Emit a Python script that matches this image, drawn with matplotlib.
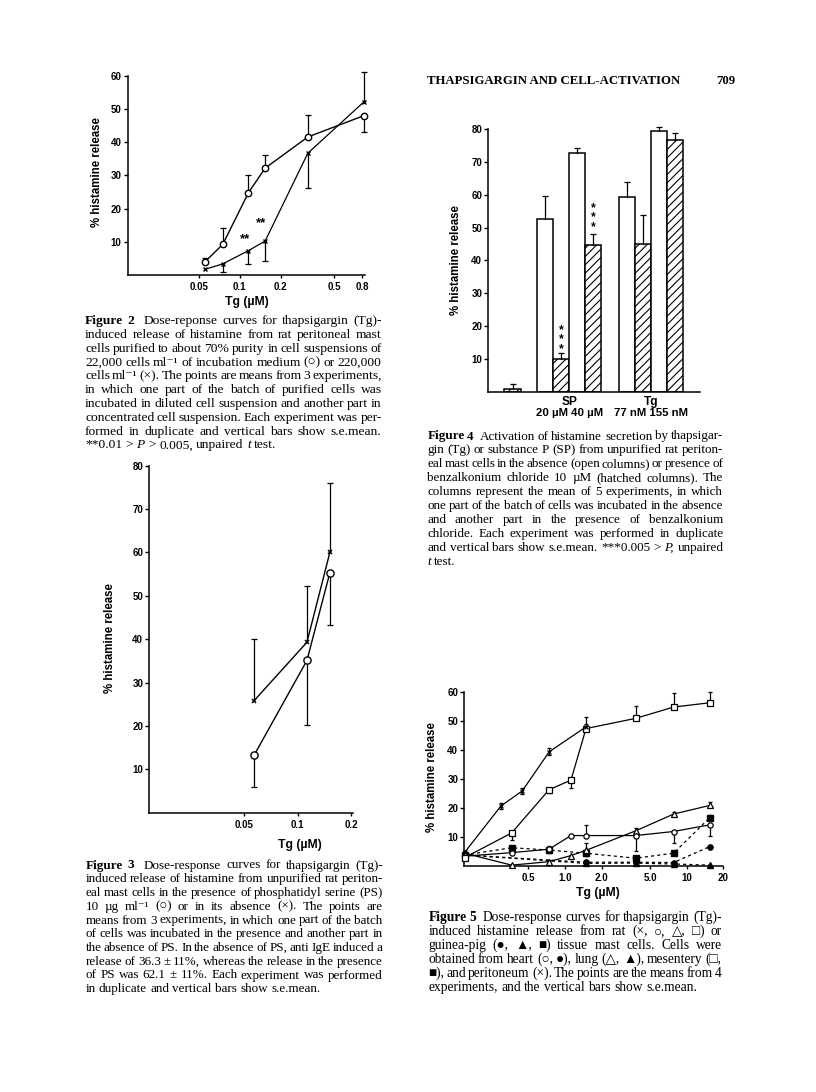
import matplotlib
matplotlib.use('Agg')
import matplotlib.pyplot as plt
import numpy as np

# ---------------- data ----------------
# Figure 2
f2_x = [0.055, 0.075, 0.116, 0.154, 0.318, 0.82]
f2_circ = [3.8, 9.2, 24.8, 32.2, 41.6, 48.0]
f2_circ_up = [1.2, 4.8, 5.2, 4.0, 6.7, 0.0]
f2_circ_dn = [0.0, 0.0, 0.0, 0.0, 0.0, 4.8]
f2_cross = [1.6, 3.3, 7.3, 10.2, 36.7, 52.1]
f2_cross_up = [0.0, 0.0, 0.0, 0.0, 0.0, 9.0]
f2_cross_dn = [0.0, 2.4, 4.0, 5.9, 10.4, 0.0]
f2_xticks = [0.05, 0.1, 0.2, 0.5, 0.8]
f2_xticklabels = ['0.05', '0.1', '0.2', '0.5', '0.8']
f2_yticks = [10, 20, 30, 40, 50, 60]

# Figure 3
f3_x = [0.0569, 0.113, 0.152]
f3_cross = [25.8, 39.3, 60.0]
f3_cross_up = [14.2, 13.0, 16.1]
f3_circ = [13.2, 35.1, 55.3]
f3_circ_dn = [7.3, 14.9, 12.1]
f3_xticks = [0.05, 0.1, 0.2]
f3_xticklabels = ['0.05', '0.1', '0.2']
f3_yticks = [10, 20, 30, 40, 50, 60, 70, 80]

# Figure 4
f4_ctrl = 1.0
f4_ctrl_err = 1.5
f4_groups = ['SP', 'Tg']
f4_doses = ['20 \u00b5M 40 \u00b5M', '77 nM 155 nM']
f4_open = [[52.7, 72.8], [59.4, 79.4]]
f4_open_err = [[6.8, 1.4], [4.4, 1.3]]
f4_hatch = [[10.1, 44.6], [45.0, 76.6]]
f4_hatch_err = [[1.8, 3.5], [8.7, 2.1]]
f4_yticks = [10, 20, 30, 40, 50, 60, 70, 80]

# Figure 5
f5_x = [0.15, 0.365, 0.74, 1.12, 1.49, 3.8, 7.8, 15.5]
f5_rat_mes = [3.0, 11.5, 26.4, 29.7, 47.5, 51.0, 54.9, 56.4]
f5_rat_mes_up = [0, 0, 0.6, 0, 4.0, 4.4, 5.0, 3.8]
f5_rat_mes_dn = [0, 2.5, 1.0, 2.8, 0, 0, 0, 0]
f5_rat_heart = [3.5, 4.7, 5.9, 10.6, 10.6, 10.6, 12.0, 14.3]
f5_rat_heart_up = [0, 0, 1.2, 0, 3.8, 0, 0, 0]
f5_rat_heart_dn = [0, 0, 0, 0, 0, 5.2, 3.8, 3.7]
f5_rat_lung = [4.5, 0.4, 1.6, 3.7, 5.5, 12.2, 18.0, 21.0]
f5_rat_lung_up = [0, 0, 0.6, 0, 2.5, 1.0, 0.7, 1.2]
f5_per_x = [0.15, 0.298, 0.446, 0.743, 1.48]
f5_per = [4.8, 20.8, 26.0, 39.5, 48.0]
f5_per_err = [0.0, 1.0, 1.0, 1.2, 1.2]
f5_gp_mes_x = [0.15, 0.365, 0.74, 1.49, 3.8, 7.8, 15.5]
f5_gp_mes = [3.9, 6.4, 5.6, 4.5, 2.8, 4.5, 16.8]
f5_gp_mes_err = [0, 0.6, 1.0, 0.8, 0.8, 0.5, 1.0]
f5_gp_heart_x = [0.15, 1.49, 3.8, 7.8, 15.5]
f5_gp_heart = [3.9, 1.4, 1.4, 1.3, 6.8]
f5_gp_lung_x = [0.15, 1.49, 3.8, 7.8, 15.5]
f5_gp_lung = [3.9, 1.0, 1.1, 0.8, 0.4]
f5_xticks = [0.5, 1.0, 2.0, 5.0, 10, 20]
f5_xticklabels = ['0.5', '1.0', '2.0', '5.0', '10', '20']
f5_yticks = [10, 20, 30, 40, 50, 60]

# ---------------- figure ----------------
W, H = 816, 1092
fig = plt.figure(figsize=(W / 100, H / 100), dpi=100)
fig.patch.set_facecolor('white')

SANS = ['Liberation Sans', 'DejaVu Sans']
SERIF = ['Liberation Serif', 'DejaVu Serif']
TICKFS = 7.0
YLABFS = 8.3
XLABFS = 8.8


def fx(x):
    return x / W


def fy(y):
    return 1 - y / H


def ax_at(l, t, r, b):
    return fig.add_axes([l / W, 1 - b / H, (r - l) / W, (b - t) / H])


def style_axes(ax, xticks=None, xlabels=None, yticks=None):
    for s in ['top', 'right']:
        ax.spines[s].set_visible(False)
    for s in ['left', 'bottom']:
        ax.spines[s].set_linewidth(1.1)
    ax.set_facecolor('none')
    ax.minorticks_off()
    ax.tick_params(axis='y', direction='out', length=3.2, width=1.0, pad=1.2)
    ax.tick_params(axis='x', direction='out', length=2.5, width=1.0, pad=2.5)
    if yticks is not None:
        ax.set_yticks(yticks)
        ax.set_yticklabels([str(v) for v in yticks])
    if xticks is not None:
        ax.set_xticks(xticks)
        ax.set_xticklabels(xlabels)
    else:
        ax.set_xticks([])
    ax.minorticks_off()
    for lab in ax.get_xticklabels() + ax.get_yticklabels():
        lab.set_fontfamily(SANS)
        lab.set_fontsize(TICKFS)
        lab.set_fontweight('bold')


def errs(ax, x, y, up, dn, capw=4.5, lw=0.9):
    x = np.asarray(x, float)
    y = np.asarray(y, float)
    up = np.asarray(up, float)
    dn = np.asarray(dn, float)
    for xi, yi, u, d in zip(x, y, up, dn):
        if u > 0:
            ax.plot([xi, xi], [yi, yi + u], color='k', lw=lw, zorder=2, clip_on=False)
            ax.plot([xi], [yi + u], marker='_', ms=capw, mew=lw, color='k', zorder=2, clip_on=False)
        if d > 0:
            ax.plot([xi, xi], [yi, yi - d], color='k', lw=lw, zorder=2, clip_on=False)
            ax.plot([xi], [yi - d], marker='_', ms=capw, mew=lw, color='k', zorder=2, clip_on=False)


def ylab(text, x, y):
    fig.text(fx(x), fy(y), text, rotation=90, ha='center', va='center',
             fontsize=YLABFS, fontweight='bold', family=SANS)


def xlab(text, x, y):
    fig.text(fx(x), fy(y), text, ha='center', va='center',
             fontsize=XLABFS, fontweight='bold', family=SANS)


# ---------- Figure 2 ----------
ax2 = ax_at(127.7, 76, 365, 274.8)
ax2.set_xscale('log')
ax2.set_xlim(0.0149, 0.84)
ax2.set_ylim(0, 60)
style_axes(ax2, f2_xticks, f2_xticklabels, f2_yticks)
errs(ax2, f2_x, f2_circ, f2_circ_up, f2_circ_dn)
errs(ax2, f2_x, f2_cross, f2_cross_up, f2_cross_dn)
ax2.plot(f2_x, f2_circ, '-', color='k', lw=1.0, marker='o', ms=4.6, mfc='white', mec='k', mew=1.0, zorder=3, clip_on=False)
ax2.plot(f2_x, f2_cross, '-', color='k', lw=0.9, marker='x', ms=3.0, mew=1.0, zorder=3, clip_on=False)
ax2.text(0.109, 10.8, '**', ha='center', va='center', fontsize=9.5, fontweight='bold', family=SANS)
ax2.text(0.1446, 15.7, '**', ha='center', va='center', fontsize=9.5, fontweight='bold', family=SANS)
ylab('% histamine release', 96.7, 171.7)
xlab('Tg (\u00b5M)', 246.7, 301.7)

# ---------- Figure 3 ----------
ax3 = ax_at(149.3, 465.7, 352.7, 812.7)
ax3.set_xscale('log')
ax3.set_xlim(0.01466, 0.2044)
ax3.set_ylim(0, 80)
style_axes(ax3, f3_xticks, f3_xticklabels, f3_yticks)
errs(ax3, f3_x, f3_cross, f3_cross_up, [0, 0, 0])
errs(ax3, f3_x, f3_circ, [0, 0, 0], f3_circ_dn)
ax3.plot(f3_x, f3_cross, '-', color='k', lw=1.0, marker='x', ms=3.2, mew=1.1, zorder=3)
ax3.plot(f3_x, f3_circ, '-', color='k', lw=1.0, marker='o', ms=5.2, mfc='white', mec='k', mew=1.0, zorder=3)
ylab('% histamine release', 110, 638.3)
xlab('Tg (\u00b5M)', 300, 845)

# ---------- Figure 4 ----------
plt.rcParams['hatch.linewidth'] = 0.8
ax4 = ax_at(488.3, 129, 700, 391.9)
ax4.set_xlim(-3.56, 9.67)
ax4.set_ylim(0, 80)
style_axes(ax4, None, None, f4_yticks)
ax4.tick_params(axis='x', length=0)
ctrl_pos = -2.04
group_start = [0.0, 5.1]
bw = 1.0
ax4.bar([ctrl_pos], [f4_ctrl], width=1.05, color='white', edgecolor='k', lw=1.1, hatch='////', zorder=2)
errs(ax4, [ctrl_pos], [f4_ctrl], [f4_ctrl_err], [0], capw=5)
for g in range(len(f4_groups)):
    for d in range(2):
        po = group_start[g] + 2 * d
        ph = po + 1
        ax4.bar([po], [f4_open[g][d]], width=bw, color='white', edgecolor='k', lw=1.1, zorder=2)
        ax4.bar([ph], [f4_hatch[g][d]], width=bw, color='white', edgecolor='k', lw=1.1, hatch='////', zorder=2)
        errs(ax4, [po], [f4_open[g][d]], [f4_open_err[g][d]], [0], capw=5)
        errs(ax4, [ph], [f4_hatch[g][d]], [f4_hatch_err[g][d]], [0], capw=5)
# significance stars
ax4.text(group_start[0] + 1, 16.0, '*\n*\n*', ha='center', va='center', fontsize=8.8,
         fontweight='bold', family=SANS, linespacing=0.72)
ax4.text(group_start[0] + 3, 53.1, '*\n*\n*', ha='center', va='center', fontsize=8.8,
         fontweight='bold', family=SANS, linespacing=0.72)
for g, name in enumerate(f4_groups):
    cx = group_start[g] + 1.5
    pxx = 488.3 + (cx + 3.56) / (9.67 + 3.56) * (700 - 488.3)
    fig.text(fx(pxx), fy(401.7), name, ha='center', va='center', fontsize=8.6,
             fontweight='bold', family=SANS)
    fig.text(fx(pxx), fy(413.5), f4_doses[g], ha='center', va='center', fontsize=8.2,
             fontweight='bold', family=SANS)
ylab('% histamine release', 456, 260)

# ---------- Figure 5 ----------
ax5 = ax_at(464.3, 692.3, 723.3, 866.3)
ax5.set_xscale('log')
ax5.set_xlim(0.149, 20)
ax5.set_ylim(0, 60)
style_axes(ax5, f5_xticks, f5_xticklabels, f5_yticks)
ms5 = 3.8
errs(ax5, f5_x, f5_rat_mes, f5_rat_mes_up, f5_rat_mes_dn, capw=3.5)
errs(ax5, f5_x, f5_rat_heart, f5_rat_heart_up, f5_rat_heart_dn, capw=3.5)
errs(ax5, f5_x, f5_rat_lung, f5_rat_lung_up, [0] * 8, capw=3.5)
errs(ax5, f5_per_x, f5_per, f5_per_err, f5_per_err, capw=3.5)
errs(ax5, f5_gp_mes_x, f5_gp_mes, f5_gp_mes_err, f5_gp_mes_err, capw=3.5)
ax5.plot(f5_gp_mes_x, f5_gp_mes, ls=(0, (2.5, 2.5)), color='k', lw=0.9, marker='s',
         ms=ms5, mfc='k', mec='k', zorder=3, clip_on=False)
ax5.plot(f5_gp_heart_x, f5_gp_heart, ls=(0, (2.5, 2.5)), color='k', lw=0.9, marker='o',
         ms=ms5, mfc='k', mec='k', zorder=3, clip_on=False)
ax5.plot(f5_gp_lung_x, f5_gp_lung, ls=(0, (2.5, 2.5)), color='k', lw=0.9, marker='^',
         ms=ms5, mfc='k', mec='k', zorder=3, clip_on=False)
ax5.plot(f5_x, f5_rat_lung, '-', color='k', lw=0.9, marker='^', ms=ms5 + 0.4, mfc='white',
         mec='k', mew=0.9, zorder=4, clip_on=False)
ax5.plot(f5_x, f5_rat_heart, '-', color='k', lw=0.9, marker='o', ms=ms5, mfc='white',
         mec='k', mew=0.9, zorder=4, clip_on=False)
ax5.plot(f5_x, f5_rat_mes, '-', color='k', lw=0.9, marker='s', ms=ms5, mfc='white',
         mec='k', mew=0.9, zorder=4, clip_on=False)
ax5.plot(f5_per_x, f5_per, '-', color='k', lw=0.9, marker='x', ms=2.6, mew=0.9,
         zorder=4, clip_on=False)
ylab('% histamine release', 431.7, 776.7)
xlab('Tg (\u00b5M)', 598.3, 893.3)

# ---------------- text ----------------
renderer = fig.canvas.get_renderer()


def parse(line):
    raw = line.split(' ')
    words, weights, pending = [], [], 0
    for tok in raw:
        if tok == '':
            pending += 1
            continue
        if words:
            weights.append(1 + pending)
        pending = 0
        words.append(tok)
    return words, weights


def make_word(w, y, size):
    weight, style, txt = 'normal', 'normal', w
    if txt.startswith('\u00a7b'):
        weight, txt = 'bold', txt[2:]
    elif txt.startswith('\u00a7i'):
        style, txt = 'italic', txt[2:]
    return fig.text(0, y, txt, fontsize=size, family=SERIF, fontweight=weight,
                    fontstyle=style, va='baseline', ha='left')


def space_width(size):
    a = fig.text(0, 0, 'a a', fontsize=size, family=SERIF)
    b = fig.text(0, 0, 'aa', fontsize=size, family=SERIF)
    w = a.get_window_extent(renderer).width - b.get_window_extent(renderer).width
    a.remove()
    b.remove()
    return w


def natural_width(line, size):
    words, weights = parse(line)
    tot = 0
    for w in words:
        t = make_word(w, 0, size)
        tot += t.get_window_extent(renderer).width
        t.remove()
    return tot + space_width(size) * sum(weights)


def justify(lines, x0, x1, y0, dy, size):
    # fit the font size so that normal lines fill the column
    ratios = [(x1 - x0) / natural_width(l, size) for l in lines[:-1]]
    size = size * float(np.median(ratios))
    spw = space_width(size)
    for i, line in enumerate(lines):
        last = (i == len(lines) - 1)
        words, weights = parse(line)
        arts, widths = [], []
        for w in words:
            t = make_word(w, fy(y0 + i * dy), size)
            arts.append(t)
            widths.append(t.get_window_extent(renderer).width)
        total = sum(widths)
        if last or not weights:
            gap = spw
        else:
            gap = (x1 - x0 - total) / sum(weights)
        x = x0
        for k, (t, w) in enumerate(zip(arts, widths)):
            t.set_x(fx(x))
            x += w
            if k < len(weights):
                x += gap * weights[k]


cap2 = [
    '\u00a7bFigure \u00a7b2  Dose-reponse curves for thapsigargin (Tg)-',
    'induced release of histamine from rat peritoneal mast',
    'cells purified to about 70% purity in cell suspensions of',
    '22,000 cells ml\u207b\u00b9 of incubation medium (\u25cb) or 220,000',
    'cells ml\u207b\u00b9 (\u00d7). The points are means from 3 experiments,',
    'in which one part of the batch of purified cells was',
    'incubated in diluted cell suspension and another part in',
    'concentrated cell suspension. Each experiment was per-',
    'formed in duplicate and vertical bars show s.e.mean.',
    '**0.01 > \u00a7iP > 0.005, unpaired \u00a7it test.',
]
cap3 = [
    '\u00a7bFigure \u00a7b3  Dose-response curves for thapsigargin (Tg)-',
    'induced release of histamine from unpurified rat periton-',
    'eal mast cells in the presence of phosphatidyl serine (PS)',
    '10 \u00b5g ml\u207b\u00b9 (\u25cb) or in its absence (\u00d7). The points are',
    'means from 3 experiments, in which one part of the batch',
    'of cells was incubated in the presence and another part in',
    'the absence of PS. In the absence of PS, anti IgE induced a',
    'release of 36.3 \u00b1 11%, whereas the release in the presence',
    'of PS was 62.1 \u00b1 11%. Each experiment was performed',
    'in duplicate and vertical bars show s.e.mean.',
]
cap4 = [
    '\u00a7bFigure \u00a7b4  Activation of histamine secretion by thapsigar-',
    'gin (Tg) or substance P (SP) from unpurified rat periton-',
    'eal mast cells in the absence (open columns) or presence of',
    'benzalkonium chloride 10 \u00b5M (hatched columns). The',
    'columns represent the mean of 5 experiments, in which',
    'one part of the batch of cells was incubated in the absence',
    'and another part in the presence of benzalkonium',
    'chloride. Each experiment was performed in duplicate',
    'and vertical bars show s.e.mean. ***0.005 > \u00a7iP, unpaired',
    '\u00a7it test.',
]
cap5 = [
    '\u00a7bFigure \u00a7b5  Dose-response curves for thapsigargin (Tg)-',
    'induced histamine release from rat (\u00d7, \u25cb, \u25b3, \u25a1) or',
    'guinea-pig (\u25cf, \u25b2, \u25a0) tissue mast cells. Cells were',
    'obtained from heart (\u25cb, \u25cf), lung (\u25b3, \u25b2), mesentery (\u25a1,',
    '\u25a0), and peritoneum (\u00d7). The points are the means from 4',
    'experiments, and the vertical bars show s.e.mean.',
]
CFS = 8.4
justify(cap2, 85, 381.7, 324.2, 13.8, CFS)
justify(cap3, 85.5, 382.7, 868.5, 13.75, CFS)
justify(cap4, 427.3, 723.3, 439.5, 13.9, CFS)
justify(cap5, 428.3, 721.7, 921.0, 13.95, CFS)

# header
fig.text(fx(427), fy(84), 'THAPSIGARGIN AND CELL-ACTIVATION', fontsize=9.2, family=SERIF,
         fontweight='bold', va='baseline', ha='left')
fig.text(fx(735), fy(84), '709', fontsize=9.2, family=SERIF, fontweight='bold',
         va='baseline', ha='right')

fig.savefig('out.png', dpi=100, facecolor='white')
